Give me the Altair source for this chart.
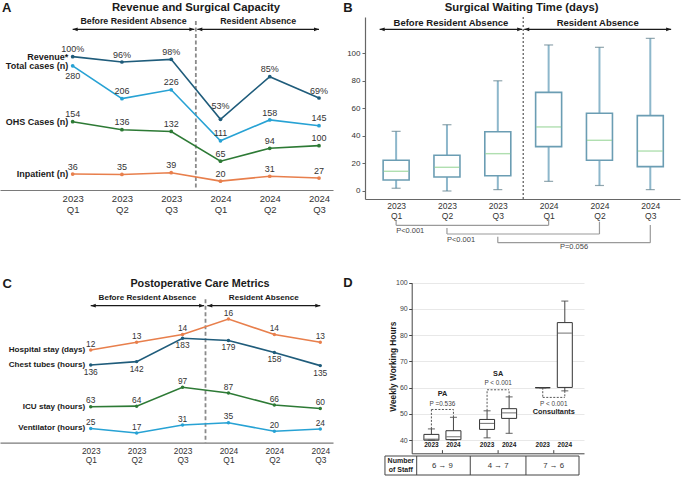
import json

import altair as alt
import pandas as pd

FONT = "Liberation Sans"
INK = "#1a1a1a"
TXT = "#333333"

quarters = ["2023 Q1", "2023 Q2", "2023 Q3", "2024 Q1", "2024 Q2", "2024 Q3"]

# A: revenue and surgical capacity
revenue_pct = [100, 96, 98, 53, 85, 69]
total_cases = [280, 206, 226, 111, 158, 145]
ohs_cases = [154, 136, 132, 65, 94, 100]
inpatient_cases = [36, 35, 39, 20, 31, 27]

# B: surgical waiting time (days), box summary per quarter
wait_low = [2, 0, 1, 7, 4, 1]
wait_q1 = [8, 10.2, 11.1, 32.2, 22.3, 17.7]
wait_median = [14.3, 17.2, 27.1, 46.5, 36.8, 29]
wait_q3 = [22.3, 25.9, 43, 71.6, 56.4, 54.7]
wait_high = [43.3, 48.1, 80, 106, 104.3, 110.8]
wait_tests = [("2023 Q1", "2024 Q1", "P<0.001"),
              ("2023 Q2", "2024 Q2", "P<0.001"),
              ("2023 Q3", "2024 Q3", "P=0.056")]

# C: postoperative care metrics
hospital_stay_days = [12, 13, 14, 16, 14, 13]
chest_tube_hours = [136, 142, 183, 179, 158, 135]
icu_stay_hours = [63, 64, 97, 87, 66, 60]
ventilator_hours = [25, 17, 31, 35, 20, 24]

# D: weekly working hours by staff group (2023, 2024 for each group)
staff_groups = ["PA", "SA", "Consultants"]
study_years = ["2023", "2024"]
hours_low = [40, 40, 40.9, 42.6, 60, 58.8]
hours_q1 = [40, 40.2, 44.1, 48.3, 60, 60.1]
hours_median = [40.4, 41.3, 46.4, 50.4, 60, 80.8]
hours_q3 = [42.2, 43.6, 47.9, 52, 60, 84.8]
hours_high = [44.3, 48.7, 51.2, 56.5, 60, 93]
hours_p = ["P =0.536", "P < 0.001", "P < 0.001"]
staff_change = ["6 \u2192 9", "4 \u2192 7", "7 \u2192 6"]

LABEL_EXPR = "split(" + json.dumps(quarters) + "[datum.value], ' ')"
RIGHT_HEAD = "M0,0L-2,-0.75L-2,0.75Z"
LEFT_HEAD = "M0,0L2,-0.75L2,0.75Z"


def qs(domain, rng=None):
    if rng is None:
        return alt.Scale(domain=domain, nice=False, zero=False)
    return alt.Scale(domain=domain, range=rng, nice=False, zero=False)


def single(**row):
    return pd.DataFrame([row])


def label(text, x, y, size, weight="normal", align="center", color=INK, angle=None):
    kw = dict(fontSize=size, fontWeight=weight, align=align, baseline="middle", color=color)
    if angle is not None:
        kw["angle"] = angle
    return alt.Chart(single(t=text)).mark_text(**kw).encode(
        x=alt.value(x), y=alt.value(y), text="t:N")


def quarter_axis_layer(xscale, offset, fs, pad, lh):
    axis = alt.Axis(orient="bottom", values=list(range(6)), labelExpr=LABEL_EXPR, ticks=False,
                    grid=False, title=None, domainColor="#7a7a7a", domainWidth=1.2,
                    labelFontSize=fs, labelColor=TXT, labelPadding=pad, labelLineHeight=lh,
                    labelAngle=0, labelFlush=False, labelOverlap=False, labelBaseline="top",
                    offset=offset)
    return alt.Chart(pd.DataFrame({"i": range(6)})).mark_point(opacity=0, size=1).encode(
        x=alt.X("i:Q", scale=xscale, axis=axis), y=alt.value(120))


def period_layers(xscale, spans, head_y, arrow_y, sep_y, head_fs, sep_color, sep_dash, sep_w):
    names = ["Before Resident Absence", "Resident Absence"]
    rows = pd.DataFrame({"x0": [s[0] for s in spans], "x1": [s[1] for s in spans], "name": names})
    rows["mid"] = (rows["x0"] + rows["x1"]) / 2

    def X(f):
        return alt.X(f, scale=xscale, axis=None)

    sep = alt.Chart(single(x=2.5)).mark_rule(
        color=sep_color, strokeDash=sep_dash, strokeWidth=sep_w).encode(
        x=X("x:Q"), y=alt.value(sep_y[0]), y2=alt.value(sep_y[1]))
    shafts = alt.Chart(rows).mark_rule(color=INK, strokeWidth=1.2).encode(
        x=X("x0:Q"), x2="x1:Q", y=alt.value(arrow_y))
    heads_df = pd.DataFrame({"x": list(rows["x0"]) + list(rows["x1"]),
                             "shape": [LEFT_HEAD] * len(rows) + [RIGHT_HEAD] * len(rows)})
    heads = alt.Chart(heads_df).mark_point(
        filled=True, size=25, opacity=1, color=INK, strokeWidth=0).encode(
        x=X("x:Q"), y=alt.value(arrow_y), shape=alt.Shape("shape:N", scale=None))
    headers = alt.Chart(rows).mark_text(
        fontSize=head_fs, fontWeight="bold", color=INK, baseline="middle").encode(
        x=X("mid:Q"), y=alt.value(head_y), text="name:N")
    return [sep, shafts, heads, headers]


def series_layers(values, name, color, xscale, yscale, fmt, place, st):
    """Line, points, value labels and a row label for one series.

    place maps a point index to 'below' or 'high'; the rest sit just above."""
    df = pd.DataFrame({"i": range(len(values)), "v": values})
    df["t"] = [fmt.format(v) for v in values]
    df["place"] = [place.get(i, "above") for i in range(len(values))]
    base = alt.Chart(df).encode(
        x=alt.X("i:Q", scale=xscale, axis=None),
        y=alt.Y("v:Q", scale=yscale, axis=None))
    layers = [
        base.mark_line(color=color, strokeWidth=1.6),
        base.mark_circle(color=color, size=st["pt"], opacity=1),
    ]
    for where, dy in (("above", st["up"]), ("below", st["down"]), ("high", st["high"])):
        layers.append(base.transform_filter(f"datum.place == '{where}'").mark_text(
            dy=dy, fontSize=st["fs"], color=TXT, baseline="middle").encode(text="t:N"))
    layers.append(base.transform_filter("datum.i == 0").mark_text(
        align="right", dx=st["name_dx"], fontSize=st["name_fs"], fontWeight="bold",
        color=INK, baseline="middle").encode(text=alt.value(name)))
    return layers


def box_layers(df, xscale, yscale, box_w, cap_w, sty, xaxis=None, yaxis=None):
    X = alt.X("pos:Q", scale=xscale, axis=None)
    base = alt.Chart(df)
    layers = [
        base.mark_rule(color=sty["whisker"], strokeWidth=sty["ww"]).encode(
            x=X, y=alt.Y("lo:Q", scale=yscale, axis=None), y2="q1:Q"),
        base.mark_rule(color=sty["whisker"], strokeWidth=sty["ww"]).encode(
            x=X, y=alt.Y("q3:Q", scale=yscale, axis=None), y2="hi:Q"),
        base.mark_bar(size=box_w, fill="white", stroke=sty["box"], strokeWidth=sty["bw"],
                      orient="vertical").encode(
            x=alt.X("pos:Q", scale=xscale, axis=xaxis),
            y=alt.Y("q1:Q", scale=yscale, axis=yaxis), y2="q3:Q"),
        base.mark_tick(orient="horizontal", size=box_w - 1, thickness=sty["mw"],
                       color=sty["median"]).encode(
            x=X, y=alt.Y("med:Q", scale=yscale, axis=None)),
    ]
    for f in ("lo", "hi"):
        layers.append(base.mark_tick(orient="horizontal", size=cap_w, thickness=1.2,
                                     color=sty["cap"]).encode(
            x=X, y=alt.Y(f + ":Q", scale=yscale, axis=None)))
    return layers


# ---------------- Panel A ----------------
A_W, A_H = 333, 240
a_x = qs([-1.475, 5.284])
a_counts = qs([0, 428.4], [190, 0])
a_rev = qs([0, 142.5], [190, 0])
st_a = dict(pt=14, fs=9, up=-7.3, down=10.5, high=-13, name_fs=9, name_dx=-4.5)

a_layers = [quarter_axis_layer(a_x, -50, 9.5, 3.5, 11)]
a_layers += period_layers(a_x, [(0, 2.47), (2.53, 5)], 21, 29.3, (21, 190), 8.8,
                          "#8a8a8a", [4, 2.5], 1.8)
a_layers += series_layers(revenue_pct, "Revenue*", "#1f5c7b", a_x, a_rev, "{}%", {3: "high"}, st_a)
a_layers += series_layers(total_cases, "Total cases (n)", "#27a2d4", a_x, a_counts, "{}", {0: "below"}, st_a)
a_layers += series_layers(ohs_cases, "OHS Cases (n)", "#2d7a35", a_x, a_counts, "{}", {}, st_a)
a_layers += series_layers(inpatient_cases, "Inpatient (n)", "#e87f4c", a_x, a_counts, "{}", {}, st_a)
a_layers += [label("A", 2, 8, 13, "bold", "left"),
             label("Revenue and Surgical Capacity", 196, 7.5, 11.3, "bold")]
panel_a = (alt.layer(*a_layers).properties(width=A_W, height=A_H)
           .resolve_scale(y="independent").resolve_axis(x="independent", y="independent"))

# ---------------- Panel B ----------------
B_W, B_H = 343, 240
b_x = qs([-0.514, 5.486], [25, 340])
b_y = qs([-5.81, 126.3], [199, 17])
wait_df = pd.DataFrame({"pos": range(6), "lo": wait_low, "q1": wait_q1, "med": wait_median,
                        "q3": wait_q3, "hi": wait_high})
b_xaxis = alt.Axis(orient="bottom", values=list(range(6)), labelExpr=LABEL_EXPR, ticks=False,
                   grid=False, title=None, domainColor="#666", domainWidth=1.2, labelFontSize=8.5,
                   labelColor=TXT, labelPadding=2, labelLineHeight=10, labelAngle=0,
                   labelFlush=False, labelOverlap=False, labelBaseline="top", offset=-41)
b_yaxis = alt.Axis(orient="left", values=[0, 20, 40, 60, 80, 100], grid=False, title=None,
                   domainColor="#666", domainWidth=1.2, tickColor="#666", tickSize=3,
                   labelFontSize=8, labelColor=TXT, labelPadding=2, offset=-25)
b_style = dict(whisker="#8db7cb", ww=2, box="#6b9db3", bw=1.6, median="#8fd18f", mw=1.4, cap="#62808c")
b_layers = box_layers(wait_df, b_x, b_y, 26, 9, b_style, b_xaxis, b_yaxis)
b_layers += period_layers(b_x, [(-0.324, 2.48), (2.52, 5.41)], 22.7, 29.3, (17, 199), 9.5,
                          "#555", [2, 2], 1.2)

# significance brackets below the quarter labels
br_left_top = [220, 228, 236.7]
br_right_top = [219, 221.7, 225]
br_bottom = [225.3, 234, 242.7]
seg_rows, txt_rows = [], []
for k, (qa, qb, ptxt) in enumerate(wait_tests):
    a, b = quarters.index(qa), quarters.index(qb)
    seg_rows += [dict(x=a, x2=a, y=br_left_top[k], y2=br_bottom[k]),
                 dict(x=a, x2=b, y=br_bottom[k], y2=br_bottom[k]),
                 dict(x=b, x2=b, y=br_right_top[k], y2=br_bottom[k])]
    centered = k == 2
    txt_rows.append(dict(x=(a + b) / 2 if centered else a, y=br_bottom[k] + (4.6 if centered else 6),
                         t=ptxt, centered=centered))
seg_df = pd.DataFrame(seg_rows)
txt_df = pd.DataFrame(txt_rows)
b_layers.append(alt.Chart(seg_df).mark_rule(color="#9a9a9a", strokeWidth=1.2).encode(
    x=alt.X("x:Q", scale=b_x, axis=None), x2="x2:Q",
    y=alt.Y("y:Q", scale=None, axis=None), y2="y2:Q"))
for centered, align in ((False, "left"), (True, "center")):
    b_layers.append(alt.Chart(txt_df).transform_filter(
        "datum.centered" if centered else "!datum.centered").mark_text(
        fontSize=7.5, color="#444", align=align, baseline="middle").encode(
        x=alt.X("x:Q", scale=b_x, axis=None), y=alt.Y("y:Q", scale=None, axis=None), text="t:N"))
b_layers += [label("B", 3.3, 7.5, 13, "bold", "left"),
             label("Surgical Waiting Time (days)", 181.7, 7.5, 11.3, "bold")]
panel_b = (alt.layer(*b_layers).properties(width=B_W, height=B_H)
           .resolve_axis(x="independent", y="independent"))

# ---------------- Panel C ----------------
C_W, C_H = 333, 237
c_x = qs([-1.976, 5.277])
c_hours = qs([0, 355], [202.7, 0])
c_days = qs([0, 26.24], [202.7, 0])
st_c = dict(pt=12, fs=8.4, up=-6.3, down=7, high=-10, name_fs=8.1, name_dx=-5.5)

c_layers = [quarter_axis_layer(c_x, -34.3, 8.4, 3.5, 9.6)]
c_layers += period_layers(c_x, [(0, 2.47), (2.54, 5)], 57.7, 65.7, (59.3, 202.7), 8.1,
                          "#8a8a8a", [4, 2.5], 1.8)
c_layers += series_layers(hospital_stay_days, "Hospital stay (days)", "#e87f4c", c_x, c_days, "{}", {}, st_c)
c_layers += series_layers(chest_tube_hours, "Chest tubes (hours)", "#1f5c7b", c_x, c_hours, "{}",
                          {i: "below" for i in range(6)}, st_c)
c_layers += series_layers(icu_stay_hours, "ICU stay (hours)", "#2d7a35", c_x, c_hours, "{}", {}, st_c)
c_layers += series_layers(ventilator_hours, "Ventilator (hours)", "#27a2d4", c_x, c_hours, "{}", {}, st_c)
c_layers += [label("C", 2.5, 43.5, 13, "bold", "left"),
             label("Postoperative Care Metrics", 200, 44, 10.8, "bold")]
panel_c = (alt.layer(*c_layers).properties(width=C_W, height=C_H)
           .resolve_scale(y="independent").resolve_axis(x="independent", y="independent"))

# ---------------- Panel D ----------------
D_W, D_H = 343, 237
d_x = qs([-0.462, 2.453], [71.7, 244])
d_y = qs([35, 100], [213.3, 42.7])
YEAR_SHIFT = 0.198
d_rows = []
for g, grp in enumerate(staff_groups):
    for j, yr in enumerate(study_years):
        k = 2 * g + j
        d_rows.append(dict(group=grp, year=yr, g=g,
                           pos=g + (YEAR_SHIFT if j else -YEAR_SHIFT),
                           lo=hours_low[k], q1=hours_q1[k], med=hours_median[k],
                           q3=hours_q3[k], hi=hours_high[k]))
d_df = pd.DataFrame(d_rows)

d_xaxis = alt.Axis(orient="bottom", values=[0, 1, 2], labels=False, ticks=False, grid=False,
                   title=None, domainColor="#444", domainWidth=1, offset=-23.7)
d_yaxis = alt.Axis(orient="left", values=list(range(40, 101, 10)), grid=True, gridColor="#e8e8e8",
                   gridWidth=1, title=None, domainColor="#444", domainWidth=1, tickColor="#444",
                   tickSize=3, labelFontSize=7, labelColor="#444", labelPadding=1.5, offset=-71.7)
d_style = dict(whisker="#444", ww=1, box="#333", bw=1, median="#333", mw=1, cap="#444")
d_layers = box_layers(d_df, d_x, d_y, 15, 7, d_style, d_xaxis, d_yaxis)

# small inward ticks at group centres on the baseline
d_layers.append(alt.Chart(pd.DataFrame({"g": [0, 1, 2], "a": 35, "b": 36.2})).mark_rule(
    color="#444", strokeWidth=1).encode(
    x=alt.X("g:Q", scale=d_x, axis=None), y=alt.Y("a:Q", scale=d_y, axis=None), y2="b:Q"))
d_layers.append(alt.Chart(d_df).mark_text(fontSize=6.5, fontWeight="bold", color="#222",
                                          baseline="middle").encode(
    x=alt.X("pos:Q", scale=d_x, axis=None), y=alt.Y("ylab:Q", scale=d_y, axis=None),
    text="year:N").transform_calculate(ylab="38.3"))

# dashed comparison brackets and group captions
bracket_level = [51.7, 59.2, 56.3]
bracket_above = [True, True, False]
name_y = [57.6, 65.1, 50.8]
p_y = [53.8, 61.7, 53.8]
dseg = []
for g in range(3):
    r0, r1 = d_rows[2 * g], d_rows[2 * g + 1]
    e0 = r0["hi"] if bracket_above[g] else r0["lo"]
    e1 = r1["hi"] if bracket_above[g] else r1["lo"]
    lv = bracket_level[g]
    dseg += [dict(x=r0["pos"], x2=r0["pos"], y=e0, y2=lv),
             dict(x=r0["pos"], x2=r1["pos"], y=lv, y2=lv),
             dict(x=r1["pos"], x2=r1["pos"], y=e1, y2=lv)]
d_layers.append(alt.Chart(pd.DataFrame(dseg)).mark_rule(
    color="#555", strokeDash=[2, 1.5], strokeWidth=1).encode(
    x=alt.X("x:Q", scale=d_x, axis=None), x2="x2:Q",
    y=alt.Y("y:Q", scale=d_y, axis=None), y2="y2:Q"))
cap_df = pd.DataFrame({"g": range(3), "name": staff_groups, "ny": name_y, "p": hours_p, "py": p_y})
d_layers.append(alt.Chart(cap_df).mark_text(fontSize=7.3, fontWeight="bold", color="#222",
                                            baseline="middle").encode(
    x=alt.X("g:Q", scale=d_x, axis=None), y=alt.Y("ny:Q", scale=d_y, axis=None), text="name:N"))
d_layers.append(alt.Chart(cap_df).mark_text(fontSize=6.4, color="#444", baseline="middle").encode(
    x=alt.X("g:Q", scale=d_x, axis=None), y=alt.Y("py:Q", scale=d_y, axis=None), text="p:N"))

# staff count table under the plot
tab_top, tab_bottom = 216, 235
tab_mid = (tab_top + tab_bottom) / 2
tab_left = -1.032
tab_edges = [tab_left, -0.462, 0.5, 1.5, 2.453]
tab_segs = [dict(x=tab_left, x2=tab_edges[-1], y=tab_top, y2=tab_top),
            dict(x=tab_left, x2=tab_edges[-1], y=tab_bottom, y2=tab_bottom)]
tab_segs += [dict(x=e, x2=e, y=tab_top, y2=tab_bottom) for e in tab_edges]
d_layers.append(alt.Chart(pd.DataFrame(tab_segs)).mark_rule(color="#444", strokeWidth=1).encode(
    x=alt.X("x:Q", scale=d_x, axis=None), x2="x2:Q",
    y=alt.Y("y:Q", scale=None, axis=None), y2="y2:Q"))
head_cell = pd.DataFrame({"x": (tab_left + tab_edges[1]) / 2, "t": ["Number", "of Staff"],
                          "y": [tab_mid - 4.1, tab_mid + 4.1]})
d_layers.append(alt.Chart(head_cell).mark_text(
    fontSize=7, fontWeight="bold", color="#222", baseline="middle").encode(
    x=alt.X("x:Q", scale=d_x, axis=None), y=alt.Y("y:Q", scale=None, axis=None), text="t:N"))
d_layers.append(alt.Chart(pd.DataFrame({"g": range(3), "t": staff_change})).mark_text(
    fontSize=7.8, color="#333", baseline="middle").encode(
    x=alt.X("g:Q", scale=d_x, axis=None), y=alt.value(tab_mid + 0.2), text="t:N"))
d_layers += [label("D", 3.3, 43, 13, "bold", "left"),
             label("Weekly Working Hours", 54, 126.7, 8.3, "bold", angle=270)]
panel_d = (alt.layer(*d_layers).properties(width=D_W, height=D_H)
           .resolve_axis(x="independent", y="independent"))

chart = (
    alt.concat(panel_a, panel_b, panel_c, panel_d, columns=2, bounds="flush",
               spacing={"row": 0, "column": 7})
    .properties(padding=0, background="white")
    .configure(font=FONT)
    .configure_view(stroke=None)
)
chart.save("out.html", embed_options={"renderer": "svg", "actions": False})
